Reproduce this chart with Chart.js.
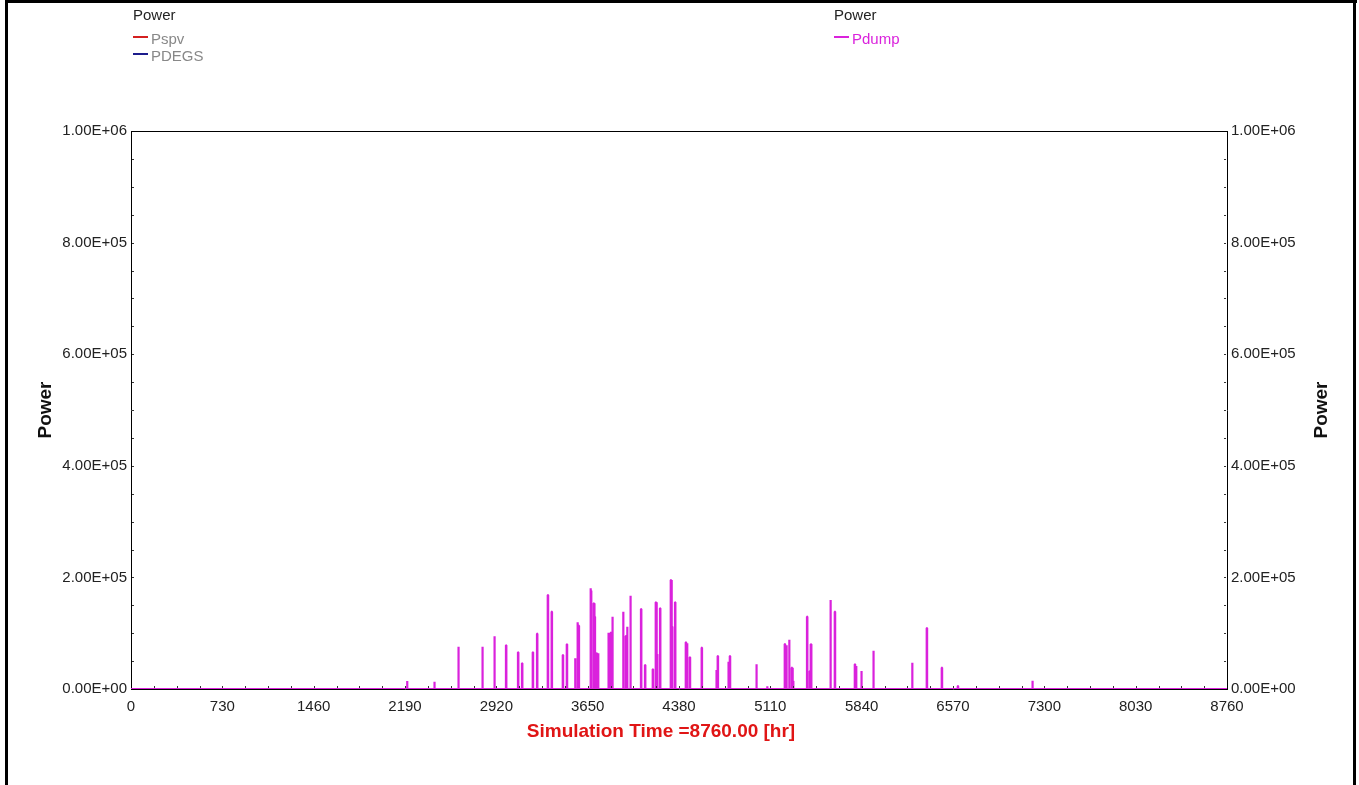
<!DOCTYPE html>
<html>
<head>
<meta charset="utf-8">
<title>Power</title>
<script src="https://cdn.jsdelivr.net/npm/chart.js@4.4.1/dist/chart.umd.min.js"></script>
<style>
  html, body { margin: 0; padding: 0; background: #fff; }
  #wrap { position: relative; width: 1359px; height: 785px; overflow: hidden; }
  canvas { position: absolute; left: 0; top: 0; }
  .lg { position: absolute; font-family: "Liberation Sans", Arial, sans-serif; font-size: 15px; line-height: 17px; white-space: nowrap; }
  .lg .hd { color: #222; height: 17px; margin-bottom: 7px; }
  .lg .row { position: relative; height: 17px; padding-left: 18px; }
  .lg .row i { position: absolute; left: 0; top: 6px; width: 15px; height: 2px; }
</style>
</head>
<body>
<div id="wrap">
  <canvas id="chart" width="1359" height="785"></canvas>
  <div class="lg" id="legendLeft" style="left:133px; top:6px;"></div>
  <div class="lg" id="legendRight" style="left:834px; top:6px;"></div>
</div>
<script>
// Simulation hours (0 .. 8760) where the dump power is non-zero, and its value [W]
const pdumpHours = [
  2206, 2424, 2616, 2808, 2904, 2997, 3093, 3125, 3211, 3245,
  3331, 3362, 3451, 3483, 3549, 3568, 3578, 3671, 3676, 3698, 3706,
  3722, 3733, 3815, 3834, 3847, 3933, 3954, 3965, 3991, 4076,
  4108, 4170, 4194, 4204, 4228, 4314, 4324, 4348, 4434, 4444,
  4466, 4561, 4678, 4689, 4774, 4786, 4998, 5084, 5225, 5238,
  5260, 5281, 5291, 5403, 5425, 5435, 5590, 5625, 5785, 5795,
  5837, 5933, 6243, 6360, 6480, 6608, 7204
];
const pdumpValues = [
  14300, 13100, 75800, 75800, 94400, 78300, 65800, 46000, 65800, 99100,
  168500, 138500, 60900, 80100, 55000, 119500, 113400, 180400, 176000, 153600, 129600,
  64000, 64000, 100900, 101000, 129600, 138500, 95000, 111700, 167200, 143400,
  43000, 35300, 155400, 62200, 144600, 195300, 111700, 155400, 83700, 81900,
  56800, 74000, 34000, 59100, 48900, 59100, 44200, 4800, 80600, 78300,
  88400, 38200, 14300, 129600, 32300, 80100, 159500, 138500, 44200, 41200,
  32300, 68700, 47200, 109300, 38200, 5400, 14900
];

// Series on the left axis (zero over the whole year) and on the right axis
const leftSeries = ['Pspv', 'PDEGS'];
const leftColors = ['#d42020', '#1c1c8c'];
const rightSeries = ['Pdump'];
const rightColors = ['#da22dc'];

// Axis ticks
const hourTicks = [0, 730, 1460, 2190, 2920, 3650, 4380, 5110, 5840, 6570, 7300, 8030, 8760];
const powerTicks = [0, 200000, 400000, 600000, 800000, 1000000];

const axisTitle = 'Power';
const timeTitle = 'Simulation Time =8760.00 [hr]';

// Each non-zero hour is a narrow pulse on a zero baseline
function pulseSeries(hours, values) {
  const pts = [{ x: 0, y: 0 }];
  hours.forEach((h, i) => {
    pts.push({ x: h, y: 0 }, { x: h, y: values[i] }, { x: h + 3, y: values[i] }, { x: h + 3, y: 0 });
  });
  pts.push({ x: 8760, y: 0 });
  return pts;
}

function sci(v) {
  if (v === 0) return '0.00E+00';
  const e = Math.floor(Math.log10(Math.abs(v)));
  const m = v / Math.pow(10, e);
  return m.toFixed(2) + 'E' + (e < 0 ? '-' : '+') + String(Math.abs(e)).padStart(2, '0');
}

// Legend blocks
function buildLegend(el, names, colors, textColor) {
  let html = '<div class="hd">' + axisTitle + '</div>';
  names.forEach((n, i) => {
    html += '<div class="row" style="color:' + (textColor || colors[i]) + '"><i style="background:' + colors[i] + '"></i>' + n + '</div>';
  });
  el.innerHTML = html;
}
buildLegend(document.getElementById('legendLeft'), leftSeries, leftColors, '#888');
buildLegend(document.getElementById('legendRight'), rightSeries, rightColors, null);

const FONT = '"Liberation Sans", Arial, sans-serif';

// Frame of the window, top border of the plot, minor ticks, axis titles
const decorations = {
  id: 'decorations',
  afterDatasetsDraw(chart) {
    const ctx = chart.ctx;
    const a = chart.chartArea;
    const xs = chart.scales.x, ys = chart.scales.y;
    ctx.save();
    ctx.strokeStyle = '#000';
    ctx.lineWidth = 1;
    ctx.beginPath();
    ctx.moveTo(a.left, a.top + 0.5);
    ctx.lineTo(a.right, a.top + 0.5);
    ctx.stroke();
    // minor ticks along the time axis
    ctx.fillStyle = '#333';
    for (let v = 182.5; v < 8760; v += 182.5) {
      const px = Math.round(xs.getPixelForValue(v));
      ctx.fillRect(px, a.bottom - 3, 1, 2);
    }
    // minor ticks along the power axes
    for (let v = 50000; v < 1000000; v += 50000) {
      const py = Math.round(ys.getPixelForValue(v));
      ctx.fillRect(a.left + 1, py, 2, 1);
      ctx.fillRect(a.right - 3, py, 2, 1);
    }
    // outer window edges
    ctx.fillStyle = '#000';
    ctx.fillRect(5, 0, 3, 785);
    ctx.fillRect(5, 0, 1352, 3);
    ctx.fillRect(1353, 0, 3, 785);
    // time axis title
    ctx.fillStyle = '#e01515';
    ctx.font = 'bold 19px ' + FONT;
    ctx.textAlign = 'center';
    ctx.textBaseline = 'middle';
    ctx.fillText(timeTitle, 661, 732);
    // right-hand axis title, reading upward
    ctx.translate(1322, (a.top + a.bottom) / 2);
    ctx.rotate(-Math.PI / 2);
    ctx.fillStyle = '#111';
    ctx.font = 'bold 19px ' + FONT;
    ctx.fillText(axisTitle, 0, 0);
    ctx.restore();
  }
};

const datasets = [];
datasets.push({
  label: rightSeries[0], yAxisID: 'y2', data: pulseSeries(pdumpHours, pdumpValues),
  borderColor: rightColors[0], borderWidth: 2.2, pointRadius: 0,
  borderJoinStyle: 'bevel', tension: 0, order: 0
});
leftSeries.forEach((n, i) => {
  datasets.push({
    label: n, yAxisID: 'y', data: [{ x: 0, y: 0 }, { x: 8760, y: 0 }],
    borderColor: leftColors[i], borderWidth: 2, pointRadius: 0, order: i + 1
  });
});

new Chart(document.getElementById('chart'), {
  type: 'line',
  data: { datasets },
  options: {
    responsive: false,
    animation: false,
    devicePixelRatio: 1,
    parsing: false,
    layout: { padding: { top: 131, left: 0, right: 0, bottom: 0 } },
    plugins: { legend: { display: false }, title: { display: false }, tooltip: { enabled: false } },
    scales: {
      x: {
        type: 'linear', min: 0, max: 8760,
        afterFit(s) { s.height = 96; },
        afterBuildTicks(s) { s.ticks = hourTicks.map(v => ({ value: v })); },
        grid: { display: false, drawTicks: false },
        border: { display: true, color: '#000', width: 1 },
        ticks: { padding: 9, color: '#222', font: { family: FONT, size: 15 }, maxRotation: 0, autoSkip: false, callback: v => String(v) }
      },
      y: {
        type: 'linear', position: 'left', min: 0, max: 1000000,
        afterFit(s) { s.width = 131; },
        afterBuildTicks(s) { s.ticks = powerTicks.map(v => ({ value: v })); },
        grid: { display: false, drawTicks: false },
        border: { display: true, color: '#000', width: 1 },
        ticks: { padding: 4, color: '#222', font: { family: FONT, size: 15 }, callback: v => sci(v) },
        title: { display: true, text: axisTitle, color: '#111', font: { family: FONT, size: 19, weight: 'bold' }, padding: { top: 34, bottom: 0 } }
      },
      y2: {
        type: 'linear', position: 'right', min: 0, max: 1000000,
        afterFit(s) { s.width = 132; },
        afterBuildTicks(s) { s.ticks = powerTicks.map(v => ({ value: v })); },
        grid: { display: false, drawTicks: false },
        border: { display: true, color: '#000', width: 1 },
        ticks: { padding: 4, color: '#222', font: { family: FONT, size: 15 }, callback: v => sci(v) }
      }
    }
  },
  plugins: [decorations]
});
</script>
</body>
</html>
